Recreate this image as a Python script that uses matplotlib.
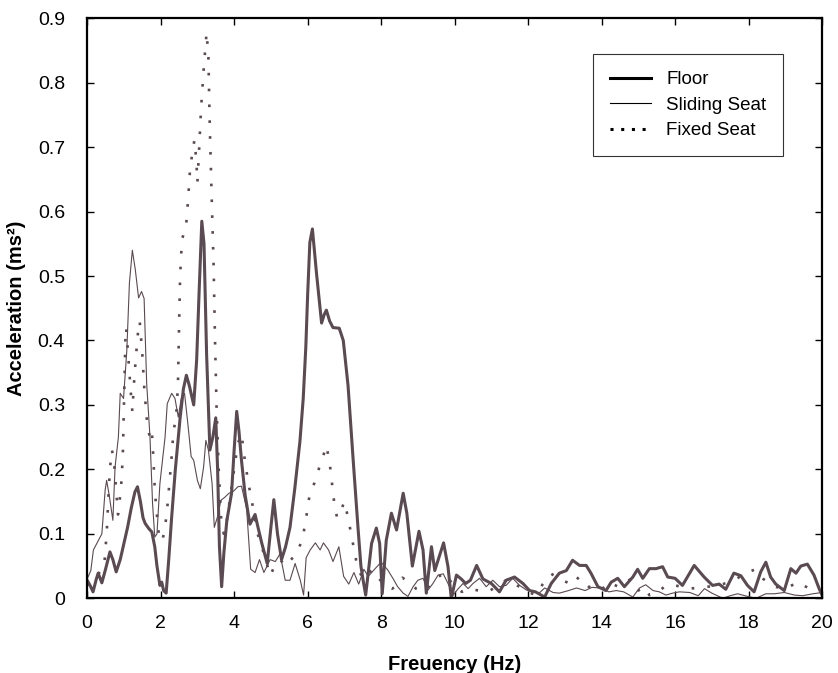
import matplotlib.pyplot as plt

plt.rcParams['font.family'] = ['Liberation Sans', 'DejaVu Sans']

# Floor (thick line)
floor_hz = [0.0, 0.08, 0.16, 0.25, 0.3, 0.4, 0.5, 0.62, 0.7, 0.79, 0.9, 1.0, 1.1, 1.2, 1.3,
            1.37, 1.45, 1.52, 1.58, 1.68, 1.76, 1.84, 1.9, 1.98, 2.03, 2.08, 2.15, 2.22, 2.3,
            2.4, 2.53, 2.62, 2.7, 2.78, 2.9, 2.98, 3.05, 3.12, 3.18, 3.25, 3.34, 3.42, 3.5,
            3.55, 3.6, 3.66, 3.72, 3.8, 3.93, 4.0, 4.07, 4.13, 4.2, 4.3, 4.43, 4.57, 4.65,
            4.75, 4.9, 5.0, 5.08, 5.18, 5.29, 5.4, 5.52, 5.65, 5.79, 5.88, 5.95, 6.0, 6.06,
            6.13, 6.24, 6.38, 6.45, 6.51, 6.6, 6.69, 6.86, 6.97, 7.1, 7.24, 7.37, 7.45, 7.51,
            7.58, 7.74, 7.87, 7.96, 8.03, 8.14, 8.28, 8.42, 8.6, 8.7, 8.85, 9.03, 9.14, 9.23,
            9.37, 9.46, 9.7, 9.82, 9.91, 10.05, 10.18, 10.3, 10.43, 10.6, 10.77, 11.0, 11.22,
            11.4, 11.63, 11.86, 12.04, 12.2, 12.45, 12.63, 12.85, 13.04, 13.21, 13.4, 13.58,
            13.71, 13.9, 14.12, 14.26, 14.44, 14.62, 14.85, 14.98, 15.12, 15.3, 15.48, 15.66,
            15.8, 16.0, 16.2, 16.52, 16.79, 17.02, 17.2, 17.38, 17.6, 17.79, 17.97, 18.15,
            18.33, 18.47, 18.6, 18.74, 18.97, 19.15, 19.29, 19.42, 19.6, 19.78, 19.92, 20.0]
floor_acc = [0.028, 0.02, 0.01, 0.03, 0.039, 0.024, 0.045, 0.072, 0.06, 0.041, 0.06, 0.085, 0.11,
             0.14, 0.165, 0.173, 0.15, 0.125, 0.116, 0.108, 0.103, 0.08, 0.05, 0.02, 0.025, 0.012,
             0.008, 0.06, 0.126, 0.2, 0.28, 0.325, 0.346, 0.33, 0.30, 0.37, 0.48, 0.585, 0.55,
             0.38, 0.23, 0.25, 0.28, 0.2, 0.08, 0.018, 0.07, 0.12, 0.163, 0.23, 0.29, 0.26, 0.214,
             0.16, 0.115, 0.13, 0.11, 0.086, 0.054, 0.11, 0.153, 0.1, 0.06, 0.08, 0.11, 0.17,
             0.243, 0.31, 0.389, 0.47, 0.552, 0.573, 0.505, 0.427, 0.44, 0.447, 0.43, 0.42, 0.419,
             0.40, 0.33, 0.214, 0.11, 0.05, 0.028, 0.005, 0.085, 0.109, 0.085, 0.007, 0.09, 0.132,
             0.106, 0.163, 0.132, 0.05, 0.104, 0.075, 0.008, 0.08, 0.043, 0.086, 0.049, 0.0,
             0.036, 0.03, 0.023, 0.028, 0.051, 0.03, 0.023, 0.01, 0.028, 0.033, 0.023, 0.012,
             0.01, 0.002, 0.023, 0.039, 0.043, 0.059, 0.051, 0.051, 0.039, 0.018, 0.012, 0.025,
             0.031, 0.018, 0.033, 0.045, 0.031, 0.046, 0.046, 0.049, 0.033, 0.031, 0.02, 0.051,
             0.033, 0.02, 0.022, 0.014, 0.039, 0.035, 0.02, 0.01, 0.041, 0.056, 0.033, 0.022,
             0.012, 0.046, 0.039, 0.05, 0.053, 0.036, 0.015, 0.005]

# Sliding seat (thin line)
slide_hz = [0.0, 0.1, 0.17, 0.31, 0.4, 0.49, 0.53, 0.6, 0.7, 0.76, 0.85, 0.9, 0.99, 1.08, 1.15,
            1.23, 1.31, 1.4, 1.48, 1.55, 1.62, 1.71, 1.78, 1.84, 1.9, 1.98, 2.12, 2.18, 2.3,
            2.39, 2.48, 2.56, 2.65, 2.74, 2.83, 2.9, 3.0, 3.08, 3.17, 3.23, 3.3, 3.4, 3.46,
            3.55, 3.64, 3.75, 3.86, 3.98, 4.1, 4.2, 4.34, 4.45, 4.57, 4.69, 4.81, 4.98, 5.12,
            5.25, 5.39, 5.52, 5.66, 5.8, 5.89, 5.96, 6.07, 6.21, 6.34, 6.43, 6.57, 6.69, 6.85,
            6.98, 7.12, 7.26, 7.39, 7.53, 7.65, 7.82, 8.0, 8.18, 8.32, 8.45, 8.6, 8.73, 8.87,
            9.0, 9.14, 9.28, 9.41, 9.55, 9.69, 9.82, 9.96, 10.1, 10.23, 10.37, 10.5, 10.68,
            10.86, 11.04, 11.22, 11.4, 11.58, 11.77, 11.95, 12.13, 12.3, 12.45, 12.68, 12.85,
            13.1, 13.32, 13.55, 13.74, 13.96, 14.2, 14.4, 14.6, 14.85, 15.03, 15.2, 15.4, 15.57,
            15.75, 15.93, 16.12, 16.4, 16.63, 16.8, 17.0, 17.3, 17.5, 17.7, 17.97, 18.2, 18.47,
            18.7, 18.97, 19.25, 19.47, 19.75, 20.0]
slide_acc = [0.03, 0.043, 0.075, 0.09, 0.1, 0.168, 0.183, 0.16, 0.121, 0.204, 0.25, 0.318, 0.31,
             0.385, 0.489, 0.54, 0.51, 0.466, 0.476, 0.465, 0.333, 0.25, 0.147, 0.095, 0.1,
             0.178, 0.25, 0.302, 0.318, 0.31, 0.281, 0.31, 0.318, 0.271, 0.22, 0.214, 0.183,
             0.17, 0.204, 0.245, 0.23, 0.178, 0.11, 0.127, 0.152, 0.157, 0.163, 0.166, 0.173,
             0.174, 0.139, 0.045, 0.04, 0.06, 0.04, 0.06, 0.057, 0.069, 0.028, 0.028, 0.054,
             0.028, 0.005, 0.063, 0.075, 0.086, 0.075, 0.086, 0.075, 0.057, 0.08, 0.034, 0.022,
             0.04, 0.022, 0.045, 0.034, 0.045, 0.056, 0.044, 0.031, 0.018, 0.008, 0.003, 0.018,
             0.028, 0.031, 0.013, 0.023, 0.036, 0.038, 0.023, 0.005, 0.015, 0.023, 0.015, 0.023,
             0.031, 0.018, 0.028, 0.018, 0.02, 0.031, 0.02, 0.013, 0.01, 0.008, 0.016, 0.009,
             0.008, 0.012, 0.016, 0.012, 0.017, 0.016, 0.01, 0.012, 0.01, 0.002, 0.016, 0.021,
             0.012, 0.01, 0.005, 0.008, 0.01, 0.009, 0.004, 0.015, 0.008, 0.0, 0.004, 0.007,
             0.003, 0.0, 0.007, 0.007, 0.009, 0.005, 0.004, 0.007, 0.009]

# Fixed seat (dotted)
fixed_hz = [0.0, 0.2, 0.4, 0.47, 0.5, 0.53, 0.55, 0.58, 0.62, 0.67, 0.72, 0.76, 0.8, 0.84, 0.88,
            0.92, 0.97, 1.0, 1.02, 1.04, 1.06, 1.1, 1.15, 1.2, 1.23, 1.27, 1.32, 1.38, 1.43,
            1.5, 1.55, 1.62, 1.7, 1.76, 1.8, 1.84, 1.88, 1.93, 1.97, 2.05, 2.12, 2.18, 2.24,
            2.3, 2.35, 2.42, 2.47, 2.5, 2.53, 2.58, 2.69, 2.75, 2.8, 2.86, 2.92, 2.97, 3.0,
            3.05, 3.1, 3.17, 3.25, 3.3, 3.33, 3.38, 3.44, 3.48, 3.52, 3.58, 3.65, 3.72, 3.8,
            3.9, 4.0, 4.1, 4.2, 4.3, 4.4, 4.5, 4.64, 4.75, 4.86, 4.98, 5.1, 5.25, 5.4, 5.55,
            5.7, 5.85, 5.95, 6.02, 6.1, 6.2, 6.3, 6.42, 6.51, 6.6, 6.66, 6.72, 6.8, 6.9, 7.0,
            7.08, 7.15, 7.25, 7.35, 7.5, 7.65, 7.8, 7.95, 8.1, 8.3, 8.45, 8.58, 8.75, 8.95,
            9.15, 9.4, 9.6, 9.77, 9.95, 10.2, 10.4, 10.65, 10.9, 11.2, 11.45, 11.7, 12.0, 12.2,
            12.4, 12.63, 12.85, 13.05, 13.2, 13.38, 13.65, 13.97, 14.2, 14.45, 14.8, 15.0,
            15.15, 15.3, 15.5, 15.75, 16.0, 16.4, 16.75, 17.2, 17.6, 17.9, 18.18, 18.4, 18.7,
            19.0, 19.35, 19.68, 20.0]
fixed_acc = [0.02, 0.03, 0.045, 0.055, 0.078, 0.1, 0.122, 0.16, 0.2, 0.23, 0.22, 0.19, 0.16,
             0.13, 0.15, 0.17, 0.22, 0.3, 0.36, 0.40, 0.42, 0.39, 0.35, 0.31, 0.29, 0.33, 0.37,
             0.41, 0.43, 0.38, 0.33, 0.28, 0.25, 0.26, 0.22, 0.17, 0.14, 0.11, 0.09, 0.09, 0.11,
             0.14, 0.18, 0.22, 0.26, 0.28, 0.33, 0.42, 0.5, 0.557, 0.576, 0.621, 0.665, 0.69,
             0.711, 0.68, 0.645, 0.70, 0.76, 0.82, 0.878, 0.84, 0.75, 0.64, 0.52, 0.4, 0.30,
             0.2, 0.12, 0.10, 0.12, 0.16, 0.2, 0.24, 0.255, 0.21, 0.175, 0.145, 0.1, 0.08, 0.06,
             0.035, 0.05, 0.06, 0.05, 0.06, 0.07, 0.09, 0.12, 0.15, 0.17, 0.18, 0.2, 0.22,
             0.237, 0.21, 0.18, 0.15, 0.125, 0.135, 0.15, 0.13, 0.11, 0.08, 0.05, 0.03, 0.04,
             0.044, 0.03, 0.02, 0.015, 0.02, 0.032, 0.025, 0.015, 0.01, 0.025, 0.035, 0.039,
             0.02, 0.01, 0.015, 0.012, 0.01, 0.02, 0.03, 0.02, 0.01, 0.005, 0.022, 0.038, 0.03,
             0.025, 0.02, 0.033, 0.018, 0.012, 0.025, 0.018, 0.03, 0.012, 0.018, 0.005, 0.008,
             0.02, 0.02, 0.015, 0.017, 0.02, 0.028, 0.038, 0.045, 0.03, 0.018, 0.015, 0.025,
             0.014, 0.01]

line_col = '#5a4a51'

fig = plt.figure(figsize=(8.38, 6.73), dpi=100)
ax = fig.add_axes([0.104, 0.111, 0.877, 0.862])

ax.plot(floor_hz, floor_acc, color=line_col, lw=2.2, label='Floor')
ax.plot(slide_hz, slide_acc, color=line_col, lw=0.8, label='Sliding Seat')
ax.plot(fixed_hz, fixed_acc, color=line_col, lw=1.9, linestyle=(0, (1, 5)), label='Fixed Seat')

ax.set_xlim(0, 20)
ax.set_ylim(0, 0.9)
ax.set_xticks(range(0, 21, 2))
ax.set_yticks([i / 10 for i in range(10)])
ax.set_yticklabels(['0'] + ['%.1f' % (i / 10) for i in range(1, 10)])
ax.tick_params(direction='in', top=True, right=True, length=5, width=1, labelsize=14)
ax.tick_params(axis='x', pad=12)
ax.tick_params(axis='y', pad=16)
for s in ax.spines.values():
    s.set_linewidth(1.6)

ax.set_xlabel('Freuency (Hz)', fontsize=14.5, fontweight='bold')
ax.set_ylabel('Acceleration (ms²)', fontsize=14.5, fontweight='bold')
ax.xaxis.set_label_coords(0.5, -0.097)
ax.yaxis.set_label_coords(-0.083, 0.5)

# legend with black handles
handles = [plt.Line2D([], [], color='black', lw=2.2),
           plt.Line2D([], [], color='black', lw=0.8),
           plt.Line2D([], [], color='black', lw=2.2, linestyle=(0, (1, 2.5)))]
leg = ax.legend(handles, ['Floor', 'Sliding Seat', 'Fixed Seat'], loc='upper right',
                bbox_to_anchor=(0.947, 0.938), borderaxespad=0, fontsize=13.5, frameon=True,
                fancybox=False, edgecolor='black', handlelength=2.2, borderpad=0.9,
                labelspacing=0.45)
leg.get_frame().set_linewidth(0.8)

fig.savefig('out.png', dpi=100)
